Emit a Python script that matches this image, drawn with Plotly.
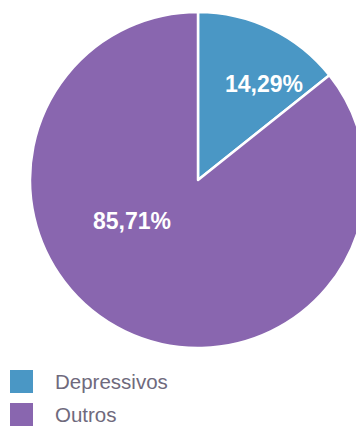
import plotly.graph_objects as go

categories = ["Depressivos", "Outros"]
values = [14.29, 85.71]
colors = ["#4a97c5", "#8966af"]

W, H = 380, 428

def px(x):
    return x / W

def py(y):
    return 1 - y / H

fig = go.Figure()
fig.add_trace(go.Pie(
    labels=categories,
    values=values,
    marker=dict(colors=colors, line=dict(color="white", width=2.5)),
    sort=False,
    direction="clockwise",
    rotation=0,
    textinfo="none",
    hoverinfo="skip",
    showlegend=False,
    domain=dict(x=[px(30), px(366)], y=[py(348), py(12)]),
))

label_pos = [(264, 84), (132, 221)]
for v, (lx, ly) in zip(values, label_pos):
    fig.add_annotation(
        x=px(lx), y=py(ly), xref="paper", yref="paper",
        text=f"{v:.2f}%".replace(".", ","), showarrow=False,
        xanchor="center", yanchor="middle",
        font=dict(family="Liberation Sans, Arial", size=23, color="white", weight="bold"),
    )

# custom legend
leg_y = [381.5, 414.5]
for cat, col, ly in zip(categories, colors, leg_y):
    fig.add_shape(type="rect", xref="paper", yref="paper",
                  x0=px(10), x1=px(33), y0=py(ly + 11.5), y1=py(ly - 11.5),
                  fillcolor=col, line=dict(width=0))
    fig.add_annotation(
        x=px(53), y=py(ly), xref="paper", yref="paper",
        text=cat, showarrow=False, xanchor="left", yanchor="middle",
        font=dict(family="Liberation Sans, Arial", size=20.5, color="#6f6a7d"),
    )

fig.update_layout(
    width=W, height=H,
    margin=dict(l=0, r=0, t=0, b=0),
    paper_bgcolor="white", plot_bgcolor="white",
    showlegend=False,
)

fig.write_html(
    "out.html",
    config={"displayModeBar": False},
    post_script="document.body.style.margin='0';document.body.style.overflow='hidden';document.documentElement.style.overflow='hidden';",
)
